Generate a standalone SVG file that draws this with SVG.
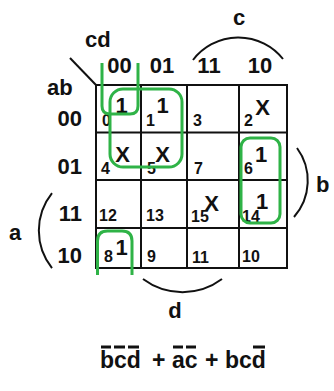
<svg xmlns="http://www.w3.org/2000/svg" width="334" height="391" viewBox="0 0 334 391">
  <style>
    text { font-family: "Liberation Sans", Arial, sans-serif; font-weight: bold; fill: #111; }
    .lbl { font-size: 22px; }
    .num { font-size: 16px; }
    .mark { font-size: 22px; text-anchor: middle; }
    .expr { font-size: 23px; }
    .grid { fill: none; stroke: #111; stroke-width: 2; }
    .curve { fill: none; stroke: #111; stroke-width: 2; }
    .bar { stroke: #111; stroke-width: 3; }
    .loop { fill: none; stroke: #2fb347; stroke-width: 3; stroke-linejoin: round; }
  </style>

  <rect width="334" height="391" fill="#fff"/>

  <!-- variable labels and brackets -->
  <g id="labels">
    <line class="curve" x1="70" y1="58" x2="96" y2="85"/>
    <text class="lbl" x="85" y="47">cd</text>
    <text class="lbl" x="47" y="95">ab</text>
    <text class="lbl" x="239" y="25" text-anchor="middle">c</text>
    <path class="curve" d="M193,60 A57,57 0 0 1 283,59"/>
    <text class="lbl" x="316" y="192">b</text>
    <path class="curve" d="M297,148 A55,55 0 0 1 294,217"/>
    <text class="lbl" x="9" y="240">a</text>
    <path class="curve" d="M52,193 A60,60 0 0 0 52,268"/>
    <text class="lbl" x="175" y="318" text-anchor="middle">d</text>
    <path class="curve" d="M143,279 A66,66 0 0 0 222,279"/>
  </g>

  <!-- column and row headers -->
  <g id="headers">
    <text class="lbl" x="119.5" y="73" text-anchor="middle">00</text>
    <text class="lbl" x="162" y="73" text-anchor="middle">01</text>
    <text class="lbl" x="209" y="73" text-anchor="middle">11</text>
    <text class="lbl" x="260" y="73" text-anchor="middle">10</text>
    <text class="lbl" x="82" y="126" text-anchor="end">00</text>
    <text class="lbl" x="82" y="174" text-anchor="end">01</text>
    <text class="lbl" x="82" y="221" text-anchor="end">11</text>
    <text class="lbl" x="82" y="263" text-anchor="end">10</text>
  </g>

  <!-- map grid -->
  <g id="grid">
    <rect class="grid" x="96" y="85" width="191" height="183"/>
    <line class="grid" x1="141" y1="85" x2="141" y2="268"/>
    <line class="grid" x1="187" y1="85" x2="187" y2="268"/>
    <line class="grid" x1="239" y1="85" x2="239" y2="268"/>
    <line class="grid" x1="96" y1="132.5" x2="287" y2="132.5"/>
    <line class="grid" x1="96" y1="180" x2="287" y2="180"/>
    <line class="grid" x1="96" y1="228" x2="287" y2="228"/>
  </g>

  <!-- minterm indices -->
  <g id="indices">
    <text class="num" x="102" y="126">0</text>
    <text class="num" x="146" y="126">1</text>
    <text class="num" x="193" y="126">3</text>
    <text class="num" x="244" y="126">2</text>
    <text class="num" x="101" y="174">4</text>
    <text class="num" x="147" y="174">5</text>
    <text class="num" x="194" y="174">7</text>
    <text class="num" x="244" y="174">6</text>
    <text class="num" x="99" y="221">12</text>
    <text class="num" x="146" y="221">13</text>
    <text class="num" x="191" y="222">15</text>
    <text class="num" x="242" y="222">14</text>
    <text class="num" x="104" y="262">8</text>
    <text class="num" x="147" y="262">9</text>
    <text class="num" x="192" y="263">11</text>
    <text class="num" x="242" y="262">10</text>
  </g>

  <!-- cell values -->
  <g id="values">
    <text class="mark" x="121.5" y="113">1</text>
    <text class="mark" x="162.5" y="113">1</text>
    <text class="mark" x="262.5" y="115">X</text>
    <text class="mark" x="122.5" y="162">X</text>
    <text class="mark" x="162.5" y="162">X</text>
    <text class="mark" x="261" y="162">1</text>
    <text class="mark" x="211.5" y="211">X</text>
    <text class="mark" x="262" y="209">1</text>
    <text class="mark" x="121.5" y="255">1</text>
  </g>

  <!-- groupings -->
  <g id="groups">
    <path class="loop" d="M102,63 V106 Q102,114 110,114 H130 Q138,114 138,106 V63"/>
    <path class="loop" d="M97.5,275 V241 Q97.5,231 107.5,231 H122 Q132,231 132,241 V275"/>
    <rect class="loop" x="110" y="89" width="72" height="78" rx="13"/>
    <rect class="loop" x="241" y="138" width="39" height="85" rx="9"/>
  </g>

  <!-- minimal expression -->
  <g id="expression">
    <text class="expr" x="100" y="368">bcd</text>
    <text class="expr" x="152" y="368">+</text>
    <text class="expr" x="172" y="368">ac</text>
    <text class="expr" x="205" y="368">+</text>
    <text class="expr" x="225" y="368">bcd</text>
    <line class="bar" x1="101" y1="347" x2="111" y2="347"/>
    <line class="bar" x1="114" y1="347" x2="125" y2="347"/>
    <line class="bar" x1="128" y1="347" x2="139" y2="347"/>
    <line class="bar" x1="173" y1="347" x2="183" y2="347"/>
    <line class="bar" x1="186" y1="347" x2="196" y2="347"/>
    <line class="bar" x1="253" y1="347" x2="265" y2="347"/>
  </g>
</svg>
